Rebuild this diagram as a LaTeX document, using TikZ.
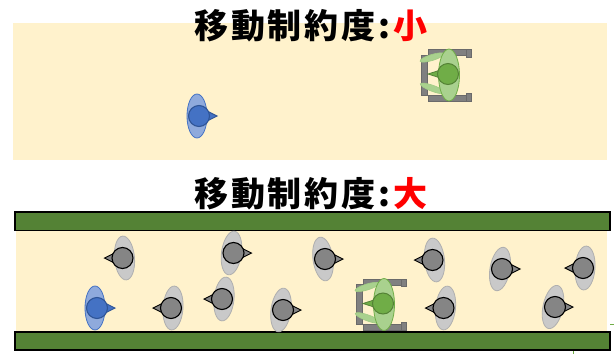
\documentclass[tikz,border=0pt]{standalone}
\usepackage{fontspec}
\newfontfamily\jptitle{Noto Sans CJK JP}[LetterSpace=8]
\definecolor{creamc}{HTML}{FFF2CC}
\definecolor{railgreen}{HTML}{548235}
\definecolor{shouldergray}{HTML}{C9C9C9}
\definecolor{shoulderline}{HTML}{AFAFAF}
\definecolor{headgray}{HTML}{858585}
\definecolor{bluebody}{HTML}{8FAADC}
\definecolor{bluemain}{HTML}{4472C4}
\definecolor{bluedark}{HTML}{2F5597}
\definecolor{greenlight}{HTML}{A9D18E}
\definecolor{greenmain}{HTML}{70AD47}
\definecolor{greendark}{HTML}{548235}
\definecolor{chairgray}{HTML}{808080}
\definecolor{chairline}{HTML}{6A6A6A}
\definecolor{titlered}{HTML}{FF0000}
\tikzset{
  % one pedestrian seen from above: #1 = facing (1 right, -1 left), #2 = shoulder tilt
  pics/walker/.style args={#1/#2}{code={
    \path[shoulder, rotate around={#2:(-2*#1,0)}] (-2*#1,0) ellipse [x radius=10pt, y radius=22pt];
    \path[nose] (7*#1,-5.5) -- (18*#1,0) -- (7*#1,5.5) -- cycle;
    \path[head] (0,0) circle [radius=10.5pt];
  }},
  % wheelchair user seen from above, facing left
  pics/chair/.style={code={
    \path[chairframe] (-27,-19) rectangle (-21,21);
    \path[chairframe] (-20,-24.5) rectangle (22,-18.5);
    \path[chairframe] (-20,21) rectangle (22,27);
    \path[chairframe] (18,-24.5) rectangle (23,-17);
    \path[chairframe] (18,19) rectangle (23,27);
    \path[leg, rotate around={17:(-16,-16.5)}] (-16,-16.5) ellipse [x radius=12.5pt, y radius=3pt];
    \path[leg, rotate around={-20:(-15,14.5)}] (-15,14.5) ellipse [x radius=13.5pt, y radius=3pt];
    \path[fill=greenlight, draw=greenmain, line width=0.8pt] (1,1) ellipse [x radius=10.5pt, y radius=26pt];
    \path[fill=greenmain, draw=greendark, line width=0.8pt] (-9,-3.5) -- (-20,0) -- (-9,3.5) -- cycle;
    \path[fill=greenmain, draw=greendark, line width=1pt] (0,0) circle [radius=10.5pt];
  }},
  chairframe/.style={fill=chairgray, draw=chairline, line width=0.6pt},
  leg/.style={fill=greenlight, draw=greenlight!85!greenmain, line width=0.6pt},
  grayp/.style={
    shoulder/.style={fill=shouldergray, draw=shoulderline, line width=0.8pt},
    nose/.style={fill=headgray, draw=black, line width=0.9pt},
    head/.style={fill=headgray, draw=black, line width=1.1pt}},
  bluep/.style={
    shoulder/.style={fill=bluebody, draw=bluemain, line width=0.8pt},
    nose/.style={fill=bluemain, draw=bluedark, line width=0.9pt},
    head/.style={fill=bluemain, draw=bluedark, line width=1.1pt}},
  panel/.style={fill=creamc},
  rail/.style={fill=railgreen, draw=black, line width=1.4pt},
  heading/.style={inner sep=0pt, font=\jptitle\bfseries\fontsize{34}{40}\selectfont},
  speck/.style={draw=greenmain, line width=1pt},
}
\begin{document}
\begin{tikzpicture}[x=1pt,y=-1pt]
\useasboundingbox (0,0) rectangle (614,354);

% upper scene: open floor
\path[panel] (13,23) rectangle (607,160);
\node[heading] (lowtitle) at (311,25.5) {移動制約度\makebox[18pt]{:}\textcolor{titlered}{小}};
\pic[bluep] at (199,116) {walker=1/0};
\pic at (448,74) {chair};

% lower scene: narrow corridor with a crowd
\path[panel] (16,230) rectangle (607,333);
\path[rail] (15,212) rectangle (610,230.5);
\path[rail] (15,332) rectangle (610,350);
\node[heading] (hightitle) at (311,193.5) {移動制約度\makebox[18pt]{:}\textcolor{titlered}{大}};

\pic[grayp] at (122.5,258) {walker=-1/5};
\pic[grayp] at (233.5,253) {walker=1/-8};
\pic[grayp] at (325,259) {walker=1/8};
\pic[grayp] at (432.5,260) {walker=-1/6};
\pic[grayp] at (502,269) {walker=1/-10};
\pic[grayp] at (583,268) {walker=-1/-4};
\pic[grayp] at (171,308) {walker=-1/-4};
\pic[grayp] at (222,299) {walker=-1/-6};
\pic[grayp] at (283,310) {walker=1/-8};
\pic[grayp] at (443.5,308) {walker=-1/-6};
\pic[grayp] at (555,307) {walker=1/-12};
\pic[bluep] at (97,308) {walker=1/0};
\pic at (383,303.5) {chair};

% small green marks at the right edge
\draw[speck] (610,324) -- (614,324);
\draw[speck] (573.5,351) -- (573.5,354);
\end{tikzpicture}
\end{document}
